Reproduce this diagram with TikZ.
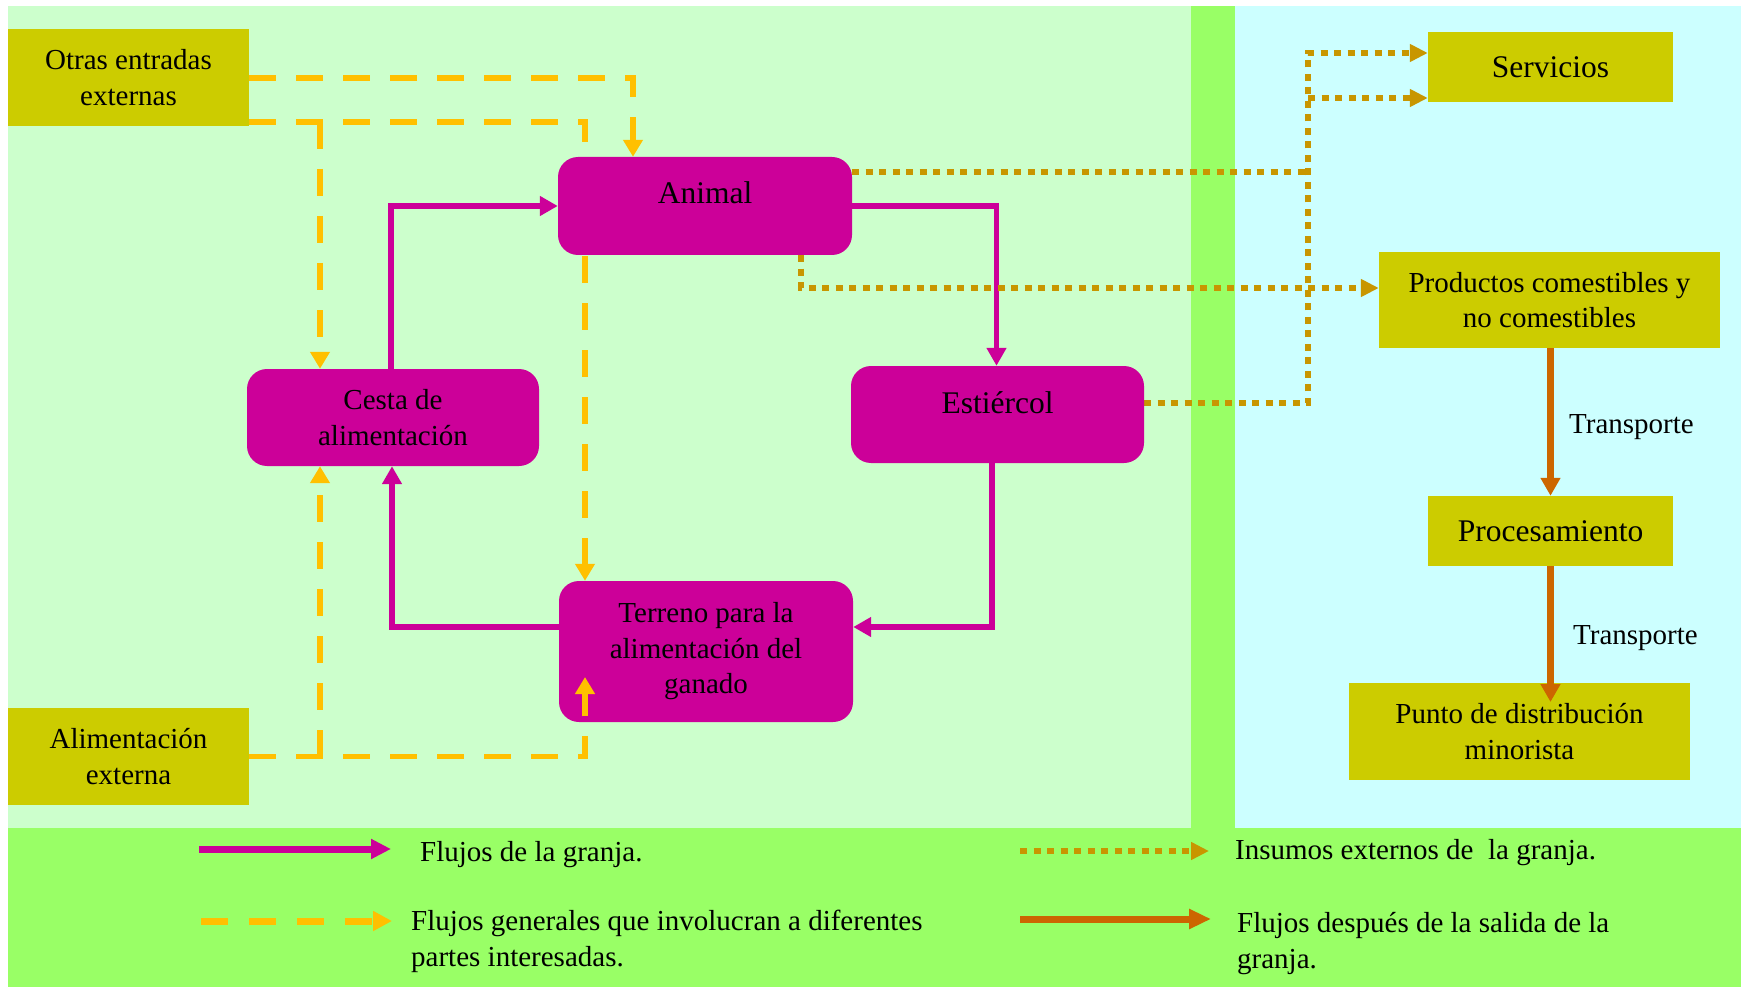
\documentclass[tikz,border=0pt]{standalone}
\usepackage{fontspec}
\setmainfont{Liberation Serif}
\usetikzlibrary{arrows.meta}
\definecolor{lgreen}{HTML}{CCFFCC}
\definecolor{bgreen}{HTML}{99FF66}
\definecolor{lcyan}{HTML}{CCFFFF}
\definecolor{olivebox}{HTML}{CCCC00}
\definecolor{mag}{HTML}{CC0099}
\definecolor{amber}{HTML}{FFC000}
\definecolor{goldd}{HTML}{C89600}
\definecolor{orng}{HTML}{CC6600}
\newcommand{\mfont}{\fontsize{29}{35.5}\selectfont}
\newcommand{\bfont}{\fontsize{31.5}{37}\selectfont}
\pgfdeclarelayer{bglayer}
\pgfdeclarelayer{connlayer}
\pgfsetlayers{bglayer,connlayer,main}
\begin{document}
\begin{tikzpicture}[x=1pt,y=-1pt,
  obox/.style={fill=olivebox, inner sep=0pt, align=center, font=\mfont},
  mbox/.style={fill=mag, rounded corners=20pt, inner sep=0pt, align=center, font=\mfont},
  txt/.style={inner sep=0pt, font=\mfont},
  farm/.style={draw=mag, line width=5.5pt, -{Triangle[length=18pt,width=19pt]}},
  gen/.style={draw=amber, line width=5.5pt, dash pattern=on 27pt off 20pt, -{Triangle[length=17pt,width=19pt]}},
  ext/.style={draw=goldd, line width=6.5pt, dash pattern=on 7pt off 6.5pt, -{Triangle[length=18pt,width=17pt]}},
  extline/.style={draw=goldd, line width=6.5pt, dash pattern=on 7pt off 6.5pt},
  post/.style={draw=orng, line width=6.5pt, -{Triangle[length=18pt,width=19pt]}},
]
\useasboundingbox (0,0) rectangle (1741,987);
\begin{pgfonlayer}{bglayer}
\fill[white] (0,0) rectangle (1741,987);
\fill[lgreen] (8,6) rectangle (1191,828);
\fill[bgreen] (1191,6) rectangle (1235,828);
\fill[lcyan] (1235,6) rectangle (1741,828);
\fill[bgreen] (8,828) rectangle (1741,987);
\end{pgfonlayer}

% boxes
\node[obox, minimum width=241pt, minimum height=97pt] (otras) at (128.5,77.5) {Otras entradas\\externas};
\node[obox, minimum width=241pt, minimum height=97pt] (alim) at (128.5,756.5) {Alimentación\\externa};
\node[mbox, minimum width=294pt, minimum height=98pt] (animal) at (705,206) {};
\node[txt, font=\bfont] (animal-t) at (705,193) {Animal};
\node[mbox, minimum width=292pt, minimum height=97pt] (cesta) at (393,417.5) {Cesta de\\alimentación};
\node[mbox, minimum width=293pt, minimum height=97pt] (estiercol) at (997.5,414.5) {};
\node[txt, font=\bfont] (estiercol-t) at (997.5,403) {Estiércol};
\node[mbox, minimum width=294pt, minimum height=141pt] (terreno) at (706,651.5) {Terreno para la\\alimentación del\\ganado};
\node[obox, font=\bfont, minimum width=245pt, minimum height=70pt] (servicios) at (1550.5,67) {Servicios};
\node[obox, minimum width=341pt, minimum height=96pt] (productos) at (1549.5,300) {Productos comestibles y\\no comestibles};
\node[obox, font=\bfont, minimum width=245pt, minimum height=70pt] (proc) at (1550.5,531) {Procesamiento};
\node[obox, minimum width=341pt, minimum height=97pt] (punto) at (1519.5,731.5) {Punto de distribución\\minorista};

% junction coordinates
\coordinate (b1) at (320,122);
\coordinate (b2) at (320,756.5);
\coordinate (tin) at (585,677);
\coordinate (ja) at (1308,53);
\coordinate (jb) at (1308,172);
\coordinate (jc) at (1308,98);
\coordinate (pin) at (1550.5,702);

\begin{pgfonlayer}{connlayer}
% farm flows
\draw[farm] ([xshift=-2pt]cesta.north) |- (animal.west);
\draw[farm] (animal.east) -| ([xshift=-1pt]estiercol.north);
\draw[farm] ([xshift=-5.5pt]estiercol.south) |- ([yshift=24.5pt]terreno.east);
\draw[farm] ([yshift=24.5pt]terreno.west) -| ([xshift=-1pt]cesta.south);
% general flows
\draw[gen] ([yshift=-0.5pt]otras.east) -| ([xshift=-72pt]animal.north);
\draw[gen] ([yshift=4pt]otras.south east) -| ([xshift=-121pt]terreno.north);
\draw[gen] (b1) -- (b1 |- cesta.north);
\draw[gen] (b2) -- (b2 |- cesta.south);
% external inputs
\draw[ext] ([yshift=11.5pt]estiercol.east) -| (ja) -- ([yshift=14pt]servicios.west);
\draw[extline] ([yshift=34pt]animal.east) -- (jb);
\draw[ext] (jc) -- ([yshift=-31pt]servicios.west);
\draw[ext] ([xshift=96pt]animal.south) |- ([yshift=12pt]productos.west);
% post-farm flows
\draw[post] (productos.south) -- (proc.north |- productos.south) -- (proc.north);
\end{pgfonlayer}

\draw[gen] (alim.east) -| (tin);
\draw[post] (proc.south) -- (pin);
\node[txt, anchor=west] (tr1) at (1569,427) {Transporte};
\node[txt, anchor=west] (tr2) at (1573,638) {Transporte};

% legend
\coordinate (l1a) at (199,849); \coordinate (l1b) at (391,849);
\coordinate (l2a) at (201,921); \coordinate (l2b) at (392,921);
\coordinate (l3a) at (1020,851); \coordinate (l3b) at (1209,851);
\coordinate (l4a) at (1020,919); \coordinate (l4b) at (1211,919);
\draw[farm, line width=7pt, -{Triangle[length=20pt,width=19pt]}] (l1a) -- (l1b);
\draw[gen, line width=7pt, dash pattern=on 27pt off 21pt, -{Triangle[length=19pt,width=19pt]}] (l2a) -- (l2b);
\draw[ext] (l3a) -- (l3b);
\draw[post, line width=7pt, -{Triangle[length=22pt,width=19pt]}] (l4a) -- (l4b);
\node[txt, anchor=west] (lt1) at (420,855) {Flujos de la granja.};
\node[txt, anchor=west, align=left] (lt2) at (411,941.5) {Flujos generales que involucran a diferentes\\partes interesadas.};
\node[txt, anchor=west] (lt3) at (1235,853) {Insumos externos de\ \ la granja.};
\node[txt, anchor=west, align=left] (lt4) at (1237,943.5) {Flujos después de la salida de la\\granja.};
\end{tikzpicture}
\end{document}
